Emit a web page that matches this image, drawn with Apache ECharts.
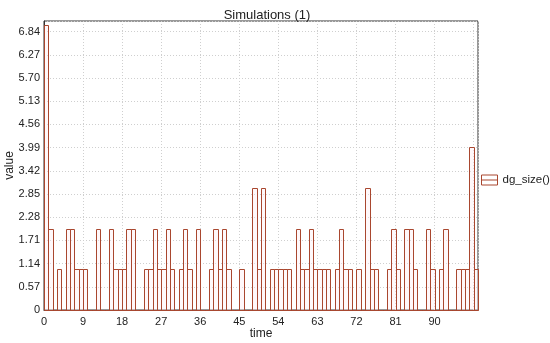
<!DOCTYPE html>
<html>
<head>
<meta charset="utf-8">
<script src="https://cdn.jsdelivr.net/npm/echarts@6/dist/echarts.min.js"></script>
<style>
html,body{margin:0;padding:0;background:#fff;}
#chart{width:550px;height:343px;}
</style>
</head>
<body>
<div id="chart"></div>
<script>
// Data
const seriesName = 'dg_size()';
const values = [
  7, 2, 0, 1, 0, 2, 2, 1, 1, 1,
  0, 0, 2, 0, 0, 2, 1, 1, 1, 2,
  2, 0, 0, 1, 1, 2, 1, 1, 2, 1,
  0, 1, 2, 1, 0, 2, 0, 0, 1, 2,
  1, 2, 1, 0, 0, 1, 0, 0, 3, 1,
  3, 0, 1, 1, 1, 1, 1, 0, 2, 1,
  1, 2, 1, 1, 1, 1, 0, 1, 2, 1,
  1, 0, 1, 0, 3, 1, 1, 0, 0, 1,
  2, 1, 0, 2, 2, 1, 0, 0, 2, 1,
  0, 1, 2, 0, 0, 1, 1, 1, 4, 1
];
const times = values.map((v, i) => i);
const xTickLabels = [0, 9, 18, 27, 36, 45, 54, 63, 72, 81, 90];
const yTickLabels = [0, 0.57, 1.14, 1.71, 2.28, 2.85, 3.42, 3.99, 4.56, 5.13, 5.70, 6.27, 6.84];

const color = '#a9472f';
const font = 'Liberation Sans';

const chart = echarts.init(document.getElementById('chart'), null, {renderer: 'canvas'});
const data = times.map((t, i) => [t, values[i]]);

chart.setOption({
  animation: false,
  backgroundColor: '#fff',
  title: {
    text: 'Simulations (1)',
    left: 262, textAlign: 'center', top: 4,
    textStyle: {fontFamily: font, fontSize: 13, fontWeight: 'normal', color: '#222'}
  },
  legend: {
    data: [{name: seriesName, icon: 'path://M0,0 H16 V10 H0 Z M0,5 H16'}],
    left: 481, top: 174, orient: 'vertical', padding: 0,
    itemWidth: 16, itemHeight: 11, itemGap: 6,
    itemStyle: {color: 'rgba(0,0,0,0)', borderColor: color, borderWidth: 1},
    textStyle: {fontFamily: font, fontSize: 11.5, color: '#222'}
  },
  grid: {
    left: 44, right: 72, top: 21, bottom: 33,
    show: true, borderColor: '#333', borderWidth: 1,
    containLabel: false, outerBoundsMode: 'none'
  },
  xAxis: {
    type: 'value', min: 0, max: 100, interval: 9,
    name: 'time', nameLocation: 'middle', nameGap: 18, nameMoveOverlap: false,
    nameTextStyle: {fontFamily: font, fontSize: 12, color: '#222'},
    axisLine: {show: true, lineStyle: {color: '#333'}},
    axisTick: {show: false},
    axisLabel: {
      fontFamily: font, fontSize: 11, color: '#222', margin: 6,
      showMaxLabel: false,
      formatter: v => xTickLabels.includes(v) ? String(v) : ''
    },
    splitLine: {show: true, lineStyle: {color: '#cfcfcf', type: [1, 2], width: 1}}
  },
  yAxis: {
    type: 'value', min: 0, max: 7.1, interval: 0.57,
    name: 'value', nameLocation: 'middle', nameGap: 28, nameRotate: 90,
    nameMoveOverlap: false,
    nameTextStyle: {fontFamily: font, fontSize: 12, color: '#222'},
    axisLine: {show: true, lineStyle: {color: '#333'}},
    axisTick: {show: false},
    axisLabel: {
      fontFamily: font, fontSize: 11, color: '#222', margin: 4,
      showMaxLabel: false,
      formatter: v => {
        const m = yTickLabels.find(t => Math.abs(t - v) < 1e-6);
        if (m === undefined) return '';
        return m === 0 ? '0' : m.toFixed(2);
      }
    },
    splitLine: {show: true, lineStyle: {color: '#cfcfcf', type: [1, 2], width: 1}}
  },
  series: [{
    name: seriesName,
    type: 'custom',
    data: data,
    encode: {x: 0, y: 1},
    itemStyle: {color: 'rgba(0,0,0,0)', borderColor: color},
    renderItem: function (params, api) {
      const t = api.value(0), v = api.value(1);
      const p0 = api.coord([t, v]);
      const p1 = api.coord([t + 1, 0]);
      return {
        type: 'rect',
        shape: {x: Math.round(p0[0]) + 0.5, y: Math.round(p0[1]) + 0.5,
                width: Math.round(p1[0]) - Math.round(p0[0]),
                height: Math.round(p1[1]) - Math.round(p0[1])},
        style: {fill: 'rgba(255,235,240,0.35)', stroke: color, lineWidth: 1}
      };
    }
  }]
});
</script>
</body>
</html>
